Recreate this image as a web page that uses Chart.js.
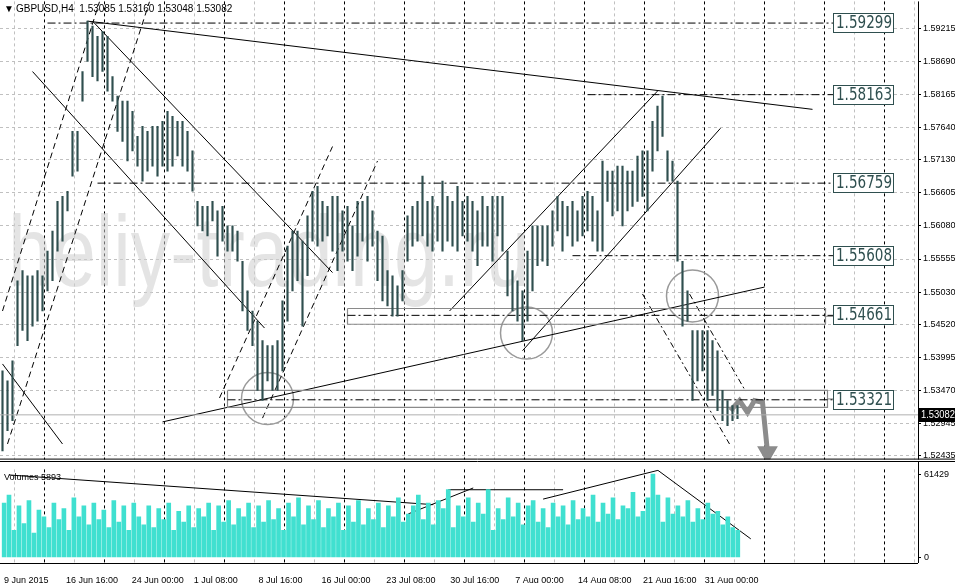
<!DOCTYPE html>
<html>
<head>
<meta charset="utf-8">
<script src="https://cdn.jsdelivr.net/npm/chart.js@4.4.1/dist/chart.umd.min.js"></script>
<style>
  body { margin: 0; background: #fff; }
  #wrap { position: relative; width: 955px; height: 583px; overflow: hidden; }
  canvas { position: absolute; left: 0; }
  #priceChart { top: -6px; }
  #volChart { top: 461px; }
</style>
</head>
<body>
<div id="wrap">
  <canvas id="priceChart" width="955" height="473"></canvas>
  <canvas id="volChart" width="955" height="122"></canvas>
</div>
<script>
// H4 bars, grouped (one entry ~ every 5 px of the original)
const highs = [
  1.5378,1.5362,1.5394,1.5521,1.5537,1.5529,1.5529,1.5537,1.5529,1.5568,
  1.5600,1.5647,1.5655,1.5663,1.5758,1.5758,1.5853,1.5933,1.5925,1.5909,
  1.5917,1.5909,1.5845,1.5814,1.5806,1.5806,1.5790,1.5750,1.5766,1.5758,
  1.5766,1.5766,1.5774,1.5790,1.5782,1.5774,1.5774,1.5758,1.5727,1.5647,
  1.5639,1.5639,1.5647,1.5632,1.5639,1.5608,1.5608,1.5600,1.5552,1.5505,
  1.5473,1.5457,1.5426,1.5418,1.5418,1.5426,1.5489,1.5576,1.5600,1.5600,
  1.5584,1.5624,1.5663,1.5671,1.5647,1.5639,1.5655,1.5655,1.5632,1.5639,
  1.5608,1.5647,1.5647,1.5655,1.5632,1.5600,1.5592,1.5537,1.5529,1.5513,
  1.5537,1.5624,1.5639,1.5647,1.5687,1.5647,1.5655,1.5639,1.5679,1.5655,
  1.5647,1.5671,1.5647,1.5655,1.5647,1.5632,1.5655,1.5639,1.5655,1.5655,
  1.5655,1.5568,1.5537,1.5521,1.5505,1.5568,1.5608,1.5608,1.5608,1.5608,
  1.5632,1.5655,1.5647,1.5639,1.5647,1.5632,1.5655,1.5663,1.5655,1.5632,
  1.5711,1.5695,1.5695,1.5703,1.5703,1.5695,1.5695,1.5719,1.5727,1.5727,
  1.5774,1.5798,1.5814,1.5727,1.5711,1.5679,1.5552,1.5505,1.5442,1.5442,
  1.5442,1.5442,1.5426,1.5410,1.5347,1.5331,1.5323,1.5323
];
const lows = [
  1.5251,1.5283,1.5299,1.5418,1.5442,1.5426,1.5449,1.5457,1.5473,1.5505,
  1.5521,1.5568,1.5584,1.5632,1.5687,1.5695,1.5806,1.5869,1.5845,1.5838,
  1.5853,1.5822,1.5806,1.5758,1.5742,1.5711,1.5727,1.5703,1.5679,1.5695,
  1.5703,1.5687,1.5703,1.5695,1.5703,1.5719,1.5703,1.5695,1.5663,1.5608,
  1.5600,1.5592,1.5616,1.5560,1.5584,1.5568,1.5568,1.5552,1.5473,1.5442,
  1.5418,1.5347,1.5331,1.5362,1.5347,1.5347,1.5378,1.5457,1.5505,1.5521,
  1.5449,1.5529,1.5584,1.5576,1.5584,1.5592,1.5568,1.5537,1.5568,1.5552,
  1.5537,1.5560,1.5584,1.5552,1.5576,1.5521,1.5489,1.5481,1.5465,1.5465,
  1.5489,1.5552,1.5576,1.5584,1.5592,1.5576,1.5568,1.5584,1.5568,1.5584,
  1.5576,1.5568,1.5592,1.5584,1.5568,1.5545,1.5576,1.5576,1.5552,1.5592,
  1.5568,1.5497,1.5473,1.5457,1.5426,1.5457,1.5505,1.5545,1.5552,1.5545,
  1.5576,1.5600,1.5568,1.5592,1.5576,1.5584,1.5592,1.5600,1.5584,1.5568,
  1.5568,1.5647,1.5624,1.5632,1.5608,1.5632,1.5639,1.5647,1.5655,1.5632,
  1.5695,1.5727,1.5750,1.5679,1.5679,1.5552,1.5449,1.5457,1.5331,1.5362,
  1.5378,1.5331,1.5339,1.5315,1.5299,1.5291,1.5299,1.5302
];
const volumes = [
  40000,46000,20000,38000,25000,42000,18000,35000,30000,22000,
  40000,28000,36000,20000,44000,30000,38000,24000,40000,28000,
  35000,22000,42000,26000,38000,20000,40000,30000,24000,38000,
  22000,36000,28000,40000,20000,34000,26000,38000,22000,36000,
  30000,40000,20000,38000,26000,42000,24000,36000,30000,40000,
  22000,38000,26000,42000,28000,36000,20000,40000,30000,44000,
  24000,38000,28000,42000,22000,36000,30000,40000,20000,38000,
  26000,42000,24000,36000,28000,40000,22000,38000,30000,44000,
  26000,32000,38000,46000,28000,40000,24000,42000,36000,50000,
  22000,38000,30000,44000,26000,40000,32000,50000,20000,36000,
  28000,44000,30000,40000,24000,38000,42000,26000,36000,22000,
  40000,30000,38000,24000,42000,28000,36000,30000,46000,26000,
  40000,32000,44000,28000,38000,36000,48000,30000,34000,44000,
  61429,46000,26000,44000,32000,38000,30000,42000,26000,36000,
  28000,40000,32000,34000,24000,30000,22000,20000
];
const priceTicks = [1.59215,1.58690,1.58165,1.57640,1.57130,1.56605,1.56080,1.55555,1.55030,1.54520,1.53995,1.53470,1.52945,1.52435];
const dateLabels = ["9 Jun 2015","16 Jun 16:00","24 Jun 00:00","1 Jul 08:00","8 Jul 16:00","16 Jul 00:00","23 Jul 08:00","30 Jul 16:00","7 Aug 00:00","14 Aug 08:00","21 Aug 16:00","31 Aug 00:00"];
const dateTickPos = [0,12.4,25.6,38,51,63.6,76.6,89.4,102.4,115,128,140.4];

const levels = [1.59299, 1.58163, 1.56759, 1.55608, 1.54661, 1.53321];
const levelStart = [9, 117, 19, 114, 69, 45];
const lastPrice = 1.53082;

// trend lines: [x1, y1, x2, y2, style]
const trendLines = [
  [17, 1.5933, 162, 1.5793, "solid"],
  [32, 1.5297, 152.4, 1.5511, "solid"],
  [18, 1.5933, 66, 1.5534, "solid"],
  [6, 1.5853, 52.4, 1.5446, "solid"],
  [0, 1.5389, 12, 1.5262, "solid"],
  [0, 1.5473, 19.4, 1.5964, "dash"],
  [1, 1.5262, 29.4, 1.5964, "dash"],
  [43.4, 1.5335, 66, 1.5734, "dash"],
  [52, 1.5303, 75, 1.5711, "dash"],
  [89.4, 1.5473, 131, 1.5822, "solid"],
  [104, 1.5410, 143.6, 1.5763, "solid"],
  [128, 1.5500, 145.4, 1.5262, "dashdot"],
  [137.4, 1.5500, 148.6, 1.5346, "dashdot"],
];
const circles = [[53, 1.5334], [104.8, 1.5438], [138, 1.5497]];
const arrowX = [145.6, 147.4, 149, 150.4, 152, 153];
const arrowY = [1.5315, 1.5331, 1.5312, 1.5331, 1.5328, 1.5249];

const volLines = [
  [1, 60800, 86, 38900], [81, 32100, 94, 51200], [89, 49900, 112, 49900],
  [108, 43000, 131, 64200], [131, 64200, 149.6, 13700],
];

const X_MAX = 183.1;
const FONT = "'Liberation Sans', Arial, sans-serif";
Chart.defaults.font.family = FONT;
Chart.defaults.devicePixelRatio = 1;
Chart.defaults.animation = false;

const dashOf = { solid: [], dash: [6, 4], dashdot: [6, 3, 2, 3] };

function lineDs(x1, y1, x2, y2, dash, color, width) {
  return {
    type: "line",
    data: [{ x: x1, y: y1 }, { x: x2, y: y2 }],
    borderColor: color || "#000",
    borderWidth: width || 1,
    borderDash: dash || [],
    pointRadius: 0,
    fill: false,
  };
}

const vGrid = {
  id: "vGrid",
  beforeDatasetsDraw(chart) {
    const { ctx, chartArea: a } = chart;
    ctx.save();
    ctx.lineWidth = 1;
    for (let x = 14; x < a.right; x += 30) {
      const black = (x - 44) % 60 === 0;
      ctx.strokeStyle = black ? "#000" : "#c0c0c0";
      ctx.setLineDash([3, 3]);
      ctx.beginPath();
      ctx.moveTo(x + 0.5, a.top);
      ctx.lineTo(x + 0.5, a.bottom);
      ctx.stroke();
    }
    ctx.restore();
  },
};

const priceDecor = {
  id: "priceDecor",
  beforeDatasetsDraw(chart) {
    const { ctx, chartArea: a } = chart;
    ctx.save();
    ctx.font = "100px 'Liberation Sans', Arial, sans-serif";
    ctx.fillStyle = "rgba(205,205,205,0.55)";
    ctx.fillText("heliy-trading.ru", 8, a.top + 285, 522);
    ctx.restore();
  },
  afterDraw(chart) {
    const { ctx, chartArea: a, scales } = chart;
    const y = scales.y;
    ctx.save();
    levels.forEach((lv) => {
      const py = Math.round(y.getPixelForValue(lv));
      ctx.fillStyle = "#fff";
      ctx.strokeStyle = "#2f4f4f";
      ctx.lineWidth = 1;
      ctx.fillRect(833, py - 10, 61, 20);
      ctx.strokeRect(833.5, py - 9.5, 60, 19);
      ctx.fillStyle = "#2f4f4f";
      ctx.font = "17px 'DejaVu Sans Condensed', 'DejaVu Sans', sans-serif";
      ctx.textBaseline = "middle";
      ctx.fillText(lv.toFixed(5), 836, py + 1, 56);
    });
    const cp = Math.round(y.getPixelForValue(lastPrice));
    ctx.fillStyle = "#000";
    ctx.fillRect(a.right + 1, cp - 7, 37, 14);
    ctx.fillStyle = "#fff";
    ctx.font = "10px " + FONT;
    ctx.textBaseline = "middle";
    ctx.fillText(lastPrice.toFixed(5), a.right + 3, cp, 34);
    ctx.fillStyle = "#000";
    ctx.font = "10px " + FONT;
    ctx.fillText("▼", 4, a.top + 8);
    ctx.fillText("GBPUSD,H4  1.53085 1.53160 1.53048 1.53082", 16, a.top + 8);
    ctx.strokeStyle = "#000";
    ctx.beginPath();
    ctx.moveTo(a.right + 0.5, a.top);
    ctx.lineTo(a.right + 0.5, a.bottom);
    ctx.moveTo(0, a.bottom - 0.5);
    ctx.lineTo(955, a.bottom - 0.5);
    ctx.stroke();
    ctx.restore();
  },
};

const levelDs = [];
levels.forEach((lv, i) => {
  levelDs.push(lineDs(levelStart[i], lv, 166.6, lv, [8, 3, 2, 3], "#000", 1));
});
const zones = [[69, 1.5477, 1.5452, 164.6], [45, 1.5347, 1.5320, 165]];
zones.forEach((z) => {
  levelDs.push({
    type: "line",
    data: [{ x: z[0], y: z[1] }, { x: z[3], y: z[1] }, { x: z[3], y: z[2] }, { x: z[0], y: z[2] }, { x: z[0], y: z[1] }],
    borderColor: "#8a8a8a", borderWidth: 1.2, pointRadius: 0, fill: false, tension: 0,
  });
  levelDs.push(lineDs(z[3], (z[1] + z[2]) / 2, 166.6, (z[1] + z[2]) / 2, [], "#8a8a8a", 1));
});

const trendDs = trendLines.map((t) => lineDs(t[0], t[1], t[2], t[3], dashOf[t[4]], "#000", 1));

new Chart(document.getElementById("priceChart"), {
  type: "bar",
  data: {
    datasets: [
      lineDs(-1, lastPrice, X_MAX, lastPrice, [], "#b0b0b0", 1),
      {
        type: "bar",
        data: highs.map((h, i) => ({ x: i, y: [lows[i], h] })),
        backgroundColor: "#2f4f4f",
        barThickness: 1.5,
      },
      ...levelDs,
      ...trendDs,
      {
        type: "scatter",
        data: circles.map((c) => ({ x: c[0], y: c[1] })),
        pointRadius: 26,
        pointBorderWidth: 1.5,
        pointBorderColor: "#9a9a9a",
        pointBackgroundColor: "rgba(0,0,0,0)",
      },
      {
        type: "line",
        data: arrowX.map((x, i) => ({ x, y: arrowY[i] })),
        borderColor: "#8c8c8c",
        borderWidth: 5,
        pointRadius: arrowX.map((x, i) => (i === arrowX.length - 1 ? 7 : 0)),
        pointStyle: "triangle",
        rotation: 180,
        pointBackgroundColor: "#8c8c8c",
        pointBorderColor: "#8c8c8c",
        fill: false,
      },
    ],
  },
  options: {
    responsive: false,
    layout: { padding: 0, autoPadding: false },
    plugins: { legend: { display: false }, tooltip: { enabled: false } },
    scales: {
      x: { type: "linear", min: -0.5, max: X_MAX, offset: false, display: false },
      y: {
        position: "right",
        min: 1.52372,
        max: 1.59643,
        afterBuildTicks: (s) => { s.ticks = priceTicks.map((v) => ({ value: v })); },
        afterFit: (s) => { s.width = 37; },
        ticks: {
          autoSkip: false,
          color: "#000",
          font: { size: 9 },
          padding: 2,
          callback: (v) => Number(v).toFixed(5),
        },
        grid: { color: "#c0c0c0", tickLength: 3, tickColor: "#000" },
        border: { display: false, dash: [3, 3] },
      },
    },
  },
  plugins: [vGrid, priceDecor],
});

const volDecor = {
  id: "volDecor",
  afterDraw(chart) {
    const { ctx, chartArea: a } = chart;
    ctx.save();
    ctx.fillStyle = "#000";
    ctx.font = "9px " + FONT;
    ctx.textBaseline = "middle";
    ctx.fillText("Volumes 5893", 4, a.top + 8);
    ctx.strokeStyle = "#000";
    ctx.beginPath();
    ctx.moveTo(0, 0.5);
    ctx.lineTo(955, 0.5);
    ctx.moveTo(a.right + 0.5, 0);
    ctx.lineTo(a.right + 0.5, a.bottom);
    ctx.moveTo(0, a.bottom + 0.5);
    ctx.lineTo(a.right, a.bottom + 0.5);
    ctx.stroke();
    ctx.restore();
  },
};

new Chart(document.getElementById("volChart"), {
  type: "bar",
  data: {
    datasets: [
      {
        data: volumes.map((v, i) => ({ x: i, y: v })),
        backgroundColor: "#40e0d0",
        barThickness: 4,
      },
      ...volLines.map((l) => lineDs(l[0], l[1], l[2], l[3], [], "#000", 1)),
    ],
  },
  options: {
    responsive: false,
    layout: { padding: { top: 2 }, autoPadding: false },
    plugins: { legend: { display: false }, tooltip: { enabled: false } },
    scales: {
      x: {
        type: "linear",
        min: -0.5,
        max: X_MAX,
        offset: false,
        afterBuildTicks: (s) => { s.ticks = dateTickPos.map((v) => ({ value: v })); },
        afterFit: (s) => { s.height = 20; },
        ticks: {
          autoSkip: false,
          maxRotation: 0,
          align: "start",
          color: "#000",
          font: { size: 9 },
          padding: 4,
          callback: (v, i) => dateLabels[i],
        },
        grid: { display: false },
        border: { display: false },
      },
      y: {
        position: "right",
        min: -4100,
        max: 64900,
        afterBuildTicks: (s) => { s.ticks = [{ value: 0 }, { value: 61429 }]; },
        afterFit: (s) => { s.width = 37; },
        ticks: { autoSkip: false, color: "#000", font: { size: 9 }, padding: 3, callback: (v) => String(v) },
        grid: { drawOnChartArea: false, tickLength: 3, tickColor: "#000" },
        border: { display: false },
      },
    },
  },
  plugins: [vGrid, volDecor],
});
</script>
</body>
</html>
